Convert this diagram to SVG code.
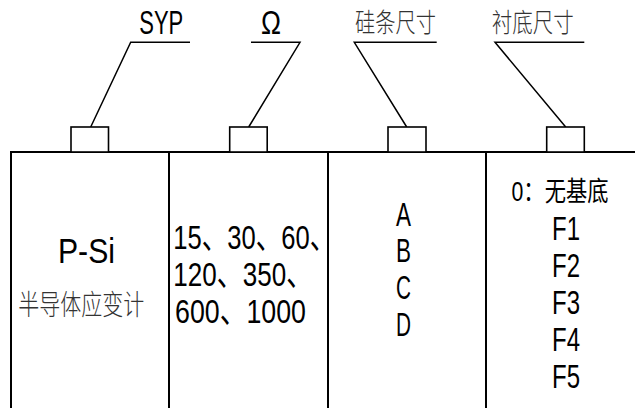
<svg xmlns="http://www.w3.org/2000/svg" width="635" height="408" viewBox="0 0 635 408">
<style>
.frame{stroke:#000;stroke-width:2;fill:none}
.box{stroke:#000;stroke-width:1.6;fill:#fff}
.lead{stroke:#000;stroke-width:1.5;fill:none}
.lat{font-family:"Liberation Sans","Noto Sans CJK SC",sans-serif;font-size:34px;fill:#000}
.cjk{font-family:"Noto Sans CJK SC",sans-serif;font-size:26px;font-weight:300;fill:#333}
.mid{text-anchor:middle}
</style>
<rect width="635" height="408" fill="#fff"/>
<g id="table">
<path class="frame" d="M11,408V152H635M169,152V408M328,152V408M486,152V408"/>
</g>
<g id="connectors">
<polyline class="lead" points="90.7,127 130.7,42.3 190,42.3"/>
<polyline class="lead" points="248.7,127 300,42.3 251,42.3"/>
<polyline class="lead" points="406.7,127 354.3,42.3 436.7,42.3"/>
<polyline class="lead" points="565.7,127 495,42.3 584.3,42.3"/>
</g>
<g id="node-syp">
<rect class="box" x="71" y="127" width="37.5" height="25"/>
<text class="lat" x="139.3" y="33.5" style="font-size:33px" textLength="44" lengthAdjust="spacingAndGlyphs">SYP</text>
<text class="lat" x="58" y="262.5" style="font-size:35px" textLength="57" lengthAdjust="spacingAndGlyphs">P-Si</text>
<text class="cjk" x="18.3" y="315" style="font-size:28px" textLength="126" lengthAdjust="spacingAndGlyphs">半导体应变计</text>
</g>
<g id="node-ohm">
<rect class="box" x="229.7" y="127" width="37.5" height="25"/>
<text class="lat" x="261" y="33.5" style="font-size:33px" textLength="20" lengthAdjust="spacingAndGlyphs">Ω</text>
<text class="lat" x="173.3" y="249" textLength="162" lengthAdjust="spacingAndGlyphs">15、30、60、</text>
<text class="lat" x="173.3" y="286" textLength="139" lengthAdjust="spacingAndGlyphs">120、350、</text>
<text class="lat" x="175" y="323" textLength="131" lengthAdjust="spacingAndGlyphs">600、1000</text>
</g>
<g id="node-size">
<rect class="box" x="388" y="127" width="38" height="25"/>
<text class="cjk" x="355" y="31.5" textLength="81" lengthAdjust="spacingAndGlyphs">硅条尺寸</text>
<text class="lat mid" x="403.5" y="225.5" textLength="15" lengthAdjust="spacingAndGlyphs">A</text>
<text class="lat mid" x="403.5" y="262" textLength="15" lengthAdjust="spacingAndGlyphs">B</text>
<text class="lat mid" x="403.5" y="299" textLength="15" lengthAdjust="spacingAndGlyphs">C</text>
<text class="lat mid" x="403.5" y="336" textLength="15" lengthAdjust="spacingAndGlyphs">D</text>
</g>
<g id="node-substrate">
<rect class="box" x="546.7" y="127" width="37.6" height="25"/>
<text class="cjk" x="491.7" y="31.5" textLength="82" lengthAdjust="spacingAndGlyphs">衬底尺寸</text>
<text class="lat" x="511.5" y="200.5" style="font-size:27px" textLength="97" lengthAdjust="spacingAndGlyphs">0：无基底</text>
<text class="lat mid" x="566" y="240" textLength="28" lengthAdjust="spacingAndGlyphs">F1</text>
<text class="lat mid" x="566" y="277" textLength="28" lengthAdjust="spacingAndGlyphs">F2</text>
<text class="lat mid" x="566" y="314" textLength="28" lengthAdjust="spacingAndGlyphs">F3</text>
<text class="lat mid" x="566" y="351" textLength="28" lengthAdjust="spacingAndGlyphs">F4</text>
<text class="lat mid" x="566" y="388" textLength="28" lengthAdjust="spacingAndGlyphs">F5</text>
</g>
</svg>
